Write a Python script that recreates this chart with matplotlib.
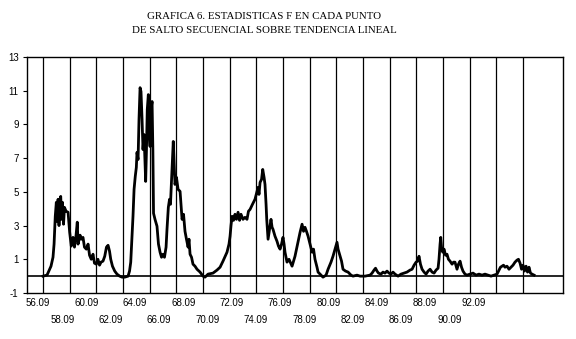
import matplotlib
matplotlib.use("Agg")
import matplotlib.pyplot as plt
import matplotlib.transforms as mtransforms

title = "GRAFICA 6. ESTADISTICAS F EN CADA PUNTO\nDE SALTO SECUENCIAL SOBRE TENDENCIA LINEAL"

# break years (vertical reference lines) and their labels
break_years = list(range(56, 93, 2))
break_labels = ["%d.09" % y for y in break_years]

# F statistic series (x in years since 1900, y = F value)
years = [56.00, 56.30, 56.60, 56.75, 56.83, 56.92, 57.00, 57.05, 57.13, 57.20,
         57.28, 57.33, 57.39, 57.46, 57.54, 57.61, 57.73, 57.88, 58.00, 58.12,
         58.25, 58.36, 58.48, 58.57, 58.63, 58.78, 58.87, 59.00, 59.11, 59.25,
         59.38, 59.49, 59.62, 59.75, 59.86, 60.00, 60.12, 60.24, 60.35, 60.50,
         60.63, 60.76, 60.88, 60.99, 61.08, 61.21, 61.38, 61.55, 61.75, 61.93,
         62.13, 62.38, 62.49, 62.58, 62.68, 62.75, 62.83, 62.92, 63.00, 63.05,
         63.13, 63.20, 63.28, 63.35, 63.43, 63.50, 63.58, 63.70, 63.76, 63.82,
         63.90, 63.97, 64.03, 64.10, 64.18, 64.24, 64.29, 64.40, 64.55, 64.66,
         64.78, 64.89, 65.00, 65.11, 65.23, 65.30, 65.40, 65.49, 65.56, 65.64,
         65.71, 65.77, 65.84, 65.90, 66.01, 66.13, 66.28, 66.43, 66.54, 66.65,
         66.76, 66.88, 66.95, 67.03, 67.14, 67.25, 67.40, 67.55, 67.78, 68.00,
         68.15, 68.38, 68.75, 69.05, 69.28, 69.50, 69.80, 69.95, 70.03, 70.10,
         70.18, 70.29, 70.40, 70.51, 70.63, 70.74, 70.85, 71.00, 71.15, 71.30,
         71.41, 71.53, 71.71, 71.90, 72.05, 72.13, 72.20, 72.28, 72.39, 72.48,
         72.58, 72.65, 72.73, 72.78, 72.88, 72.99, 73.10, 73.18, 73.25, 73.40,
         73.55, 73.66, 73.78, 73.89, 74.00, 74.08, 74.15, 74.30, 74.45, 74.68,
         74.90, 75.09, 75.28, 75.43, 75.54, 75.65, 75.76, 75.88, 76.03, 76.18,
         76.29, 76.40, 76.55, 76.63, 76.78, 77.00, 77.23, 77.38, 77.60, 77.75,
         77.90, 78.05, 78.13, 78.28, 78.39, 78.50, 78.69, 78.88, 79.10, 79.25,
         79.55, 79.78, 80.15, 80.53, 80.68, 80.83, 80.94, 81.05, 81.16, 81.35,
         81.50, 81.65, 81.80, 81.95, 82.10, 82.25, 82.40, 82.63, 82.85, 83.08,
         83.30, 83.53, 83.68, 83.83, 83.98, 84.09, 84.20, 84.31, 84.43, 84.58,
         84.73, 84.88, 85.03, 85.18, 85.33, 85.48, 85.63, 85.70, 85.78, 85.83,
         85.89, 85.98, 86.08, 86.19, 86.30, 86.41, 86.53, 86.68, 86.79, 86.90,
         87.05, 87.16, 87.28, 87.39, 87.50, 87.65, 87.80, 88.03, 88.25, 88.48,
         88.70, 88.93, 89.15, 89.38, 89.60, 89.83, 90.05, 90.20, 90.31, 90.43,
         90.54, 90.65, 90.80, 90.95, 91.10, 91.25, 91.40, 91.55, 91.66, 91.78,
         91.89, 92.00, 92.11, 92.23, 92.34, 92.45, 92.56, 92.68, 92.83]
f_values = [0.00, 0.06, 0.59, 1.12, 1.90, 3.55, 4.38, 3.25, 4.56, 3.00,
            4.56, 4.73, 3.37, 4.38, 3.08, 4.08, 3.85, 3.79, 2.60, 1.78,
            2.30, 1.72, 2.43, 3.20, 1.90, 2.43, 2.19, 2.30, 1.72, 1.60,
            1.90, 1.24, 1.00, 1.30, 0.77, 0.71, 1.00, 0.65, 0.83, 0.89,
            1.18, 1.72, 1.83, 1.48, 1.00, 0.59, 0.30, 0.12, 0.00, -0.06,
            -0.06, 0.00, 0.30, 0.83, 2.49, 3.55, 5.15, 5.92, 6.45, 7.34,
            6.92, 9.29, 11.18, 10.95, 9.29, 7.51, 8.40, 5.62, 7.51, 9.88,
            10.77, 8.40, 7.69, 9.88, 10.36, 7.51, 3.73, 3.37, 2.96, 1.90,
            1.42, 1.12, 1.30, 1.12, 1.72, 2.78, 4.08, 4.56, 4.26, 5.74,
            6.92, 7.99, 6.63, 5.44, 5.86, 5.15, 5.03, 3.37, 3.67, 2.66,
            2.19, 1.72, 2.19, 1.30, 1.12, 0.71, 0.59, 0.41, 0.24, 0.00,
            -0.06, 0.12, 0.18, 0.36, 0.53, 0.89, 1.42, 1.90, 2.37, 3.00,
            3.55, 3.31, 3.67, 3.37, 3.79, 3.31, 3.67, 3.37, 3.49, 3.37,
            3.85, 3.96, 4.26, 4.56, 5.03, 5.27, 4.85, 5.56, 5.74, 6.33,
            5.86, 5.44, 4.26, 3.37, 2.19, 2.78, 3.37, 2.90, 2.78, 2.37,
            2.07, 1.78, 1.60, 1.90, 2.30, 1.90, 1.42, 0.83, 1.00, 0.59,
            1.18, 1.90, 2.60, 3.08, 2.66, 2.90, 2.66, 2.37, 1.90, 1.42,
            1.60, 1.00, 0.53, 0.24, 0.12, -0.06, 0.06, 0.41, 0.83, 1.18,
            1.60, 2.01, 1.60, 1.18, 0.89, 0.41, 0.30, 0.24, 0.06, 0.00,
            0.06, 0.00, 0.00, 0.06, 0.18, 0.36, 0.47, 0.30, 0.18, 0.12,
            0.24, 0.18, 0.30, 0.18, 0.12, 0.24, 0.12, 0.00, 0.12, 0.18,
            0.24, 0.36, 0.41, 0.65, 0.83, 0.89, 1.18, 0.71, 0.41, 0.24,
            0.12, 0.30, 0.41, 0.24, 0.18, 0.36, 0.47, 1.00, 1.90, 2.30,
            1.72, 1.42, 1.60, 1.24, 1.30, 1.00, 0.89, 0.71, 0.83, 0.83,
            0.41, 0.71, 0.89, 0.53, 0.30, 0.12, 0.06, 0.12, 0.18, 0.06,
            0.12, 0.06, 0.12, 0.06, 0.00, 0.06, 0.12, 0.36, 0.53, 0.59,
            0.65, 0.53, 0.59, 0.41, 0.53, 0.65, 0.83, 0.95, 1.00, 0.77,
            0.41, 0.65, 0.30, 0.59, 0.24, 0.53, 0.18, 0.12, 0.06]

y_ticks = [13, 11, 9, 7, 5, 3, 1, -1]

fig = plt.figure(figsize=(5.76, 3.39), dpi=100)
ax = fig.add_axes([27/576, 1 - 293/339, (563 - 27)/576, (293 - 57)/339])

for by in break_years:
    ax.axvline(by, color="black", lw=0.9, zorder=1)
ax.axhline(0, color="black", lw=1.2, zorder=2)
ax.plot(years, f_values, color="black", lw=2.0, zorder=3)

ax.set_xlim(54.8, 95.0)
ax.set_ylim(-1, 13)
ax.set_yticks(y_ticks)
ax.set_yticklabels([str(t) for t in y_ticks], fontsize=7, family="Liberation Sans")
ax.tick_params(axis="y", length=3, width=0.8, pad=3)
ax.set_xticks([])
for s in ax.spines.values():
    s.set_linewidth(1.0)
    s.set_color("black")

# tick labels in two staggered rows (printed slightly compressed relative to lines)
trans = mtransforms.blended_transform_factory(ax.transData, ax.transAxes)
label_start = break_years[0] - 0.375
label_step = 2 * 0.9075
for i, lab in enumerate(break_labels):
    xpos = label_start + i * label_step
    ypos = -0.042 if i % 2 == 0 else -0.114
    ax.text(xpos, ypos, lab, transform=trans, ha="center", va="center",
            fontsize=7, family="Liberation Sans")

fig.text(264/576, 1 - 23.5/339, title, ha="center", va="center",
         fontsize=7.8, family="Liberation Serif", linespacing=1.75)

fig.savefig("out.png", dpi=100)
